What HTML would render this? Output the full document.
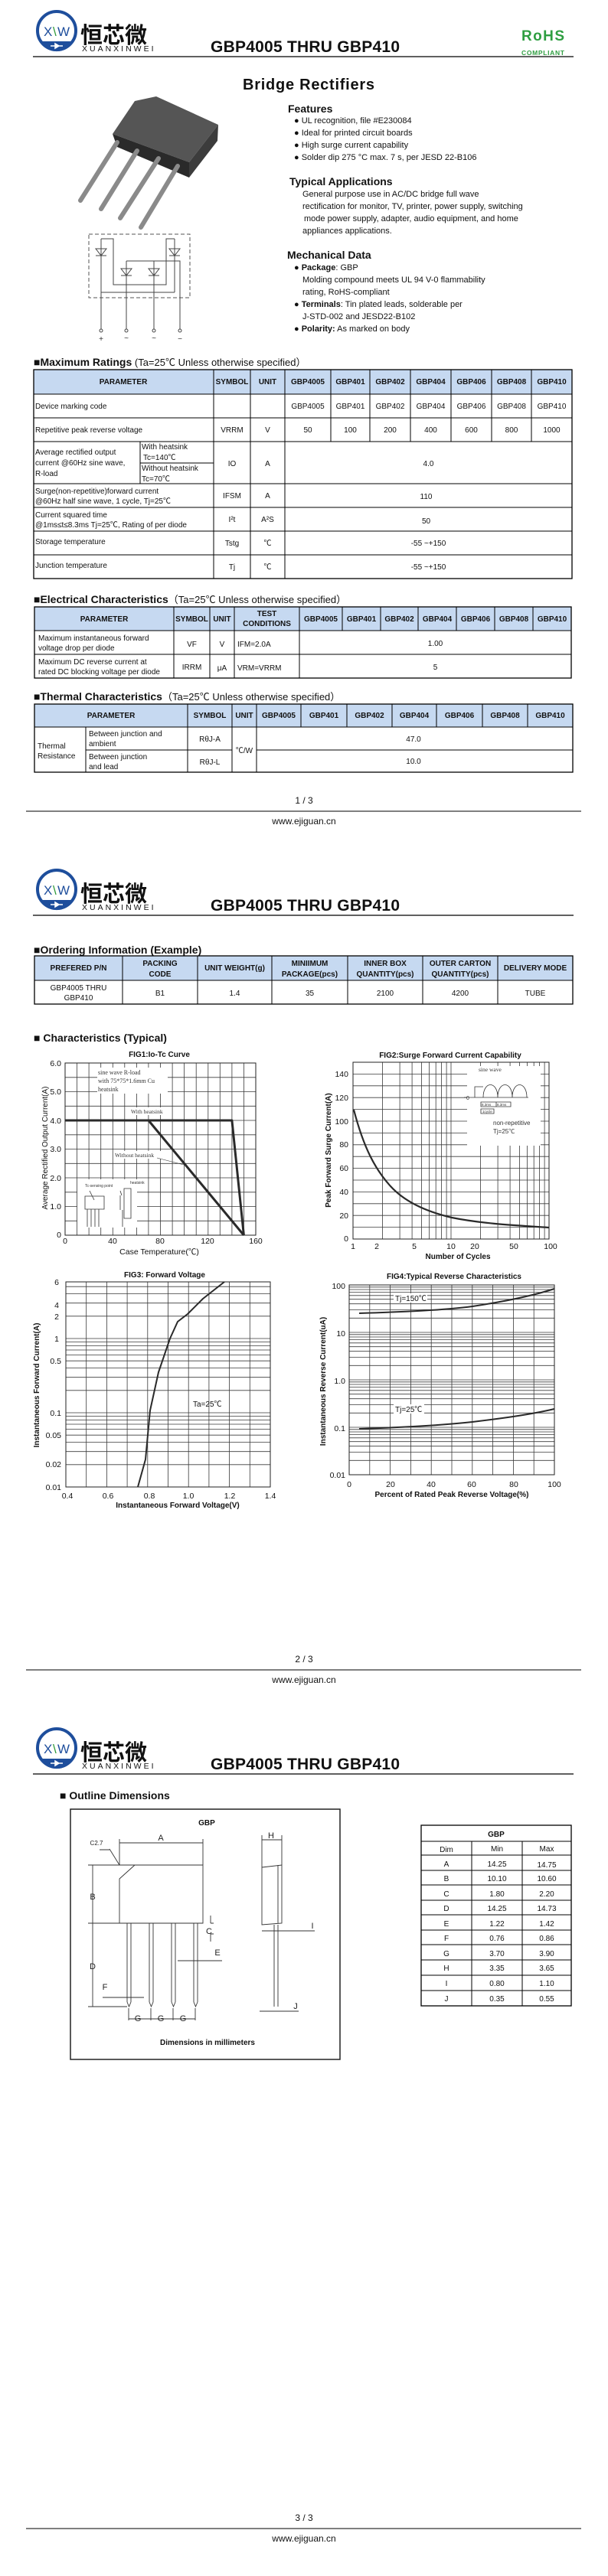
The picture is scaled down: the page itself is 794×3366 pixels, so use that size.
<!DOCTYPE html>
<html><head><meta charset="utf-8"><style>
html,body{margin:0;padding:0;background:#fff;}
svg{display:block;font-family:"Liberation Sans","Noto Sans CJK SC",sans-serif;}
.t{font-size:10px;fill:#111;}
.h{font-size:10px;font-weight:bold;fill:#111;}
.c{text-anchor:middle;}
.g{stroke:#3a3a3a;stroke-width:0.8;fill:none;}
.tb{stroke:#000;stroke-width:1;fill:none;}
.ax{font-size:10.5px;fill:#111;}
</style></head><body>
<svg width="794" height="3366" viewBox="0 0 794 3366" xmlns="http://www.w3.org/2000/svg">
<rect width="794" height="3366" fill="#fff"/>

<!-- ===== HEADERS ===== -->
<g id="hd1">
<circle cx="74" cy="40" r="25" fill="none" stroke="#1e4e9c" stroke-width="4"/>
<path d="M52,54 A25,25 0 0 0 96,54 Z" fill="#1e4e9c"/>
<path d="M66,60 H82 M72,57 L72,63 L77,60 Z" stroke="#fff" stroke-width="1.5" fill="#fff"/>
<text x="57" y="47" font-size="17" fill="#1e4e9c">X</text><text x="69" y="47" font-size="17" fill="#2e9a3a">\</text><text x="75" y="47" font-size="17" fill="#1e4e9c">W</text>
<text x="105" y="56" font-size="29" font-weight="bold" fill="#111" font-family="'Noto Sans CJK SC',sans-serif">恒芯微</text>
<text x="107" y="67" font-size="10.5" letter-spacing="3" fill="#111">XUANXINWEI</text>
<text x="275" y="68" font-size="21" font-weight="bold" fill="#111" textLength="247">GBP4005 THRU GBP410</text>
<line x1="43" y1="74" x2="749" y2="74" stroke="#000" stroke-width="1.3"/>
</g>
<text x="681" y="53" font-size="19" font-weight="bold" fill="#2f9e41" textLength="56">RoHS</text>
<text x="681" y="72" font-size="8.5" font-weight="bold" fill="#2f9e41" textLength="56">COMPLIANT</text>

<g transform="translate(0,1122)">
<circle cx="74" cy="40" r="25" fill="none" stroke="#1e4e9c" stroke-width="4"/>
<path d="M52,54 A25,25 0 0 0 96,54 Z" fill="#1e4e9c"/>
<path d="M66,60 H82 M72,57 L72,63 L77,60 Z" stroke="#fff" stroke-width="1.5" fill="#fff"/>
<text x="57" y="47" font-size="17" fill="#1e4e9c">X</text><text x="69" y="47" font-size="17" fill="#2e9a3a">\</text><text x="75" y="47" font-size="17" fill="#1e4e9c">W</text>
<text x="105" y="56" font-size="29" font-weight="bold" fill="#111" font-family="'Noto Sans CJK SC',sans-serif">恒芯微</text>
<text x="107" y="67" font-size="10.5" letter-spacing="3" fill="#111">XUANXINWEI</text>
<text x="275" y="68" font-size="21" font-weight="bold" fill="#111" textLength="247">GBP4005 THRU GBP410</text>
<line x1="43" y1="74" x2="749" y2="74" stroke="#000" stroke-width="1.3"/>
</g>
<g transform="translate(0,2244)">
<circle cx="74" cy="40" r="25" fill="none" stroke="#1e4e9c" stroke-width="4"/>
<path d="M52,54 A25,25 0 0 0 96,54 Z" fill="#1e4e9c"/>
<path d="M66,60 H82 M72,57 L72,63 L77,60 Z" stroke="#fff" stroke-width="1.5" fill="#fff"/>
<text x="57" y="47" font-size="17" fill="#1e4e9c">X</text><text x="69" y="47" font-size="17" fill="#2e9a3a">\</text><text x="75" y="47" font-size="17" fill="#1e4e9c">W</text>
<text x="105" y="56" font-size="29" font-weight="bold" fill="#111" font-family="'Noto Sans CJK SC',sans-serif">恒芯微</text>
<text x="107" y="67" font-size="10.5" letter-spacing="3" fill="#111">XUANXINWEI</text>
<text x="275" y="68" font-size="21" font-weight="bold" fill="#111" textLength="247">GBP4005 THRU GBP410</text>
<line x1="43" y1="74" x2="749" y2="74" stroke="#000" stroke-width="1.3"/>
</g>

<!-- ===== FOOTERS ===== -->
<g font-size="12" fill="#111" text-anchor="middle">
<text x="397" y="1050">1 / 3</text><line x1="34" y1="1060" x2="759" y2="1060" stroke="#555" stroke-width="1.5"/><text x="397" y="1077">www.ejiguan.cn</text>
<text x="397" y="2172">2 / 3</text><line x1="34" y1="2182" x2="759" y2="2182" stroke="#555" stroke-width="1.5"/><text x="397" y="2199">www.ejiguan.cn</text>
<text x="397" y="3294">3 / 3</text><line x1="34" y1="3304" x2="759" y2="3304" stroke="#555" stroke-width="1.5"/><text x="397" y="3321">www.ejiguan.cn</text>
</g>

<!-- ===== PAGE 1 ===== -->
<text x="317" y="117" font-size="20" font-weight="bold" fill="#111" textLength="172">Bridge Rectifiers</text>

<!-- component photo -->
<polygon points="147,175 176,132 204,126 285,163 247,212" fill="#555"/>
<polygon points="147,175 247,212 247,232 153,192" fill="#2a2a2a"/>
<polygon points="285,163 284,184 247,232 247,212" fill="#3c3c3c"/>
<g stroke="#8a8a8a" stroke-width="6" stroke-linecap="round">
<line x1="153" y1="186" x2="105" y2="262"/><line x1="179" y1="197" x2="132" y2="273"/>
<line x1="207" y1="207" x2="157" y2="285"/><line x1="232" y1="217" x2="184" y2="297"/>
</g>

<!-- circuit -->
<rect x="116" y="306" width="132" height="83" fill="none" stroke="#555" stroke-width="1" stroke-dasharray="5,3"/>
<g stroke="#444" stroke-width="1" fill="none">
<path d="M132,312 H148 V372 H217 V312 H228"/>
<path d="M132,312 V430 M228,312 V382 M132,382 H228"/>
<path d="M165,341 H235 V430 M165,341 V430 M201,341 V430"/>
<path d="M125,325 H139 L132,334 Z M125,334 H139"/>
<path d="M221,325 H235 L228,334 Z M221,334 H235"/>
<path d="M158,351 H172 L165,360 Z M158,360 H172"/>
<path d="M194,351 H208 L201,360 Z M194,360 H208"/>
<circle cx="132" cy="432" r="2"/><circle cx="165" cy="432" r="2"/><circle cx="201" cy="432" r="2"/><circle cx="235" cy="432" r="2"/>
</g>
<g font-size="10" fill="#333" text-anchor="middle"><text x="132" y="446">+</text><text x="165" y="445">~</text><text x="201" y="445">~</text><text x="235" y="446">−</text></g>

<!-- text blocks -->
<g fill="#111">
<text x="376" y="147" font-size="14" font-weight="bold">Features</text>
<g font-size="11">
<text x="384" y="161">● UL recognition, file #E230084</text>
<text x="384" y="177">● Ideal for printed circuit boards</text>
<text x="384" y="193">● High surge current capability</text>
<text x="384" y="209">● Solder dip 275 °C max. 7 s, per JESD 22-B106</text>
</g>
<text x="378" y="242" font-size="14" font-weight="bold">Typical Applications</text>
<g font-size="11">
<text x="395" y="257">General purpose use in AC/DC bridge full wave</text>
<text x="395" y="273">rectification for monitor, TV, printer, power supply, switching</text>
<text x="397" y="289">mode power supply, adapter, audio equipment, and home</text>
<text x="395" y="305">appliances applications.</text>
</g>
<text x="375" y="338" font-size="14" font-weight="bold">Mechanical Data</text>
<g font-size="11">
<text x="384" y="353">● <tspan font-weight="bold">Package</tspan>: GBP</text>
<text x="395" y="369">Molding compound meets UL 94 V-0 flammability</text>
<text x="395" y="385">rating, RoHS-compliant</text>
<text x="384" y="401">● <tspan font-weight="bold">Terminals</tspan>: Tin plated leads, solderable  per</text>
<text x="395" y="417">J-STD-002 and JESD22-B102</text>
<text x="384" y="433">● <tspan font-weight="bold">Polarity:</tspan> As marked on body</text>
</g>
</g>

<!-- Maximum Ratings -->
<text x="44" y="478" fill="#111"><tspan font-size="14" font-weight="bold">■Maximum Ratings</tspan><tspan font-size="13"> (Ta=25℃ Unless otherwise specified）</tspan></text>
<rect x="44" y="483" width="703" height="32" fill="#c6d9f1"/>
<g class="tb">
<rect x="44" y="483" width="703" height="273" stroke-width="1.3"/>
<path d="M44,515H747M44,546H747M44,577H747M44,632H747M44,663H747M44,694H747M44,725H747"/>
<path d="M279,483V756M327,483V756M372,483V756M432,483V577M483,483V577M536,483V577M589,483V577M642,483V577M694,483V577"/>
<path d="M183,577V632M183,605H279"/>
</g>
<g class="h c">
<text x="161" y="502">PARAMETER</text><text x="303" y="502">SYMBOL</text><text x="349.5" y="502">UNIT</text>
<text x="402" y="502">GBP4005</text><text x="457.5" y="502">GBP401</text><text x="509.5" y="502">GBP402</text><text x="562.5" y="502">GBP404</text><text x="615.5" y="502">GBP406</text><text x="668" y="502">GBP408</text><text x="720.5" y="502">GBP410</text>
</g>
<g class="t">
<text x="46" y="534">Device marking code</text>
<g class="c"><text x="402" y="534">GBP4005</text><text x="457.5" y="534">GBP401</text><text x="509.5" y="534">GBP402</text><text x="562.5" y="534">GBP404</text><text x="615.5" y="534">GBP406</text><text x="668" y="534">GBP408</text><text x="720.5" y="534">GBP410</text></g>
<text x="46" y="565">Repetitive peak reverse voltage</text>
<g class="c"><text x="303" y="565">VRRM</text><text x="349.5" y="565">V</text><text x="402" y="565">50</text><text x="457.5" y="565">100</text><text x="509.5" y="565">200</text><text x="562.5" y="565">400</text><text x="615.5" y="565">600</text><text x="668" y="565">800</text><text x="720.5" y="565">1000</text></g>
<text x="46" y="594">Average rectified output</text><text x="46" y="608">current @60Hz sine wave,</text><text x="46" y="622">R-load</text>
<text x="185" y="587">With heatsink</text><text x="187" y="601">Tc=140℃</text><text x="185" y="615">Without heatsink</text><text x="185" y="629">Tc=70℃</text>
<g class="c"><text x="303" y="609">IO</text><text x="349.5" y="609">A</text><text x="559.5" y="609">4.0</text></g>
<text x="46" y="645">Surge(non-repetitive)forward current</text><text x="46" y="658">@60Hz half sine wave, 1 cycle, Tj=25℃</text>
<g class="c"><text x="303" y="651">IFSM</text><text x="349.5" y="651">A</text><text x="556.5" y="652">110</text></g>
<text x="46" y="676">Current squared time</text><text x="46" y="689">@1ms≤t≤8.3ms Tj=25℃, Rating of per diode</text>
<g class="c"><text x="303" y="682">I²t</text><text x="349.5" y="682">A²S</text><text x="556.5" y="684">50</text></g>
<text x="46" y="711">Storage temperature</text>
<g class="c"><text x="303" y="713">Tstg</text><text x="349.5" y="713">℃</text><text x="559.5" y="713">-55 ~+150</text></g>
<text x="46" y="742">Junction temperature</text>
<g class="c"><text x="303" y="744">Tj</text><text x="349.5" y="744">℃</text><text x="559.5" y="744">-55 ~+150</text></g>
</g>

<!-- Electrical -->
<text x="44" y="788" fill="#111"><tspan font-size="14" font-weight="bold">■Electrical Characteristics</tspan><tspan font-size="13">（Ta=25℃ Unless otherwise specified）</tspan></text>
<rect x="45" y="793" width="701" height="31" fill="#c6d9f1"/>
<g class="tb">
<rect x="45" y="793" width="701" height="93" stroke-width="1.3"/>
<path d="M45,824H746M45,855H746"/>
<path d="M227,793V886M274,793V886M306,793V886M391,793V886M447,793V824M497,793V824M546,793V824M596,793V824M646,793V824M696,793V824"/>
</g>
<g class="h c">
<text x="136" y="812">PARAMETER</text><text x="250.5" y="812">SYMBOL</text><text x="290" y="812">UNIT</text>
<text x="348.5" y="805">TEST</text><text x="348.5" y="818">CONDITIONS</text>
<text x="419" y="812">GBP4005</text><text x="472" y="812">GBP401</text><text x="521.5" y="812">GBP402</text><text x="571" y="812">GBP404</text><text x="621" y="812">GBP406</text><text x="671" y="812">GBP408</text><text x="721" y="812">GBP410</text>
</g>
<g class="t">
<text x="50" y="837">Maximum instantaneous forward</text><text x="50" y="850">voltage drop per diode</text>
<g class="c"><text x="250.5" y="845">VF</text><text x="290" y="845">V</text><text x="568.5" y="844">1.00</text></g>
<text x="310" y="845">IFM=2.0A</text>
<text x="50" y="868">Maximum DC reverse current at</text><text x="50" y="881">rated DC blocking voltage per diode</text>
<g class="c"><text x="250.5" y="875">IRRM</text><text x="290" y="876">μA</text><text x="568.5" y="875">5</text></g>
<text x="310" y="876">VRM=VRRM</text>
</g>

<!-- Thermal -->
<text x="44" y="915" fill="#111"><tspan font-size="14" font-weight="bold">■Thermal Characteristics</tspan><tspan font-size="13">（Ta=25℃ Unless otherwise specified）</tspan></text>
<rect x="45" y="920" width="703" height="30" fill="#c6d9f1"/>
<g class="tb">
<rect x="45" y="920" width="703" height="89" stroke-width="1.3"/>
<path d="M45,950H748M112,980H303M335,980H748"/>
<path d="M112,950V1009M245,920V1009M303,920V1009M335,920V1009M393,920V950M453,920V950M512,920V950M570,920V950M630,920V950M689,920V950"/>
</g>
<g class="h c">
<text x="145" y="938">PARAMETER</text><text x="274" y="938">SYMBOL</text><text x="319" y="938">UNIT</text>
<text x="364" y="938">GBP4005</text><text x="423" y="938">GBP401</text><text x="482.5" y="938">GBP402</text><text x="541" y="938">GBP404</text><text x="600" y="938">GBP406</text><text x="659.5" y="938">GBP408</text><text x="718.5" y="938">GBP410</text>
</g>
<g class="t">
<text x="49" y="978">Thermal</text><text x="49" y="991">Resistance</text>
<text x="116" y="962">Between junction and</text><text x="116" y="975">ambient</text>
<text x="116" y="992">Between junction</text><text x="116" y="1005">and lead</text>
<g class="c"><text x="274" y="969">RθJ-A</text><text x="274" y="999">RθJ-L</text><text x="319" y="984">℃/W</text><text x="540" y="969">47.0</text><text x="540" y="998">10.0</text></g>
</g>

<!-- ===== PAGE 2 ===== -->
<text x="44" y="1246" font-size="14" font-weight="bold" fill="#111">■Ordering Information (Example)</text>
<rect x="45" y="1249" width="703" height="32" fill="#c6d9f1"/>
<g class="tb">
<rect x="45" y="1249" width="703" height="63" stroke-width="1.3"/>
<path d="M45,1281H748M160,1249V1312M258,1249V1312M355,1249V1312M454,1249V1312M552,1249V1312M650,1249V1312"/>
</g>
<g class="h c">
<text x="102.5" y="1268">PREFERED P/N</text>
<text x="209" y="1262">PACKING</text><text x="209" y="1276">CODE</text>
<text x="306.5" y="1268">UNIT WEIGHT(g)</text>
<text x="404.5" y="1262">MINIIMUM</text><text x="404.5" y="1276">PACKAGE(pcs)</text>
<text x="503" y="1262">INNER BOX</text><text x="503" y="1276">QUANTITY(pcs)</text>
<text x="601" y="1262">OUTER CARTON</text><text x="601" y="1276">QUANTITY(pcs)</text>
<text x="699" y="1268">DELIVERY MODE</text>
</g>
<g class="t c" font-size="11">
<text x="102.5" y="1294">GBP4005 THRU</text><text x="102.5" y="1307">GBP410</text>
<text x="209" y="1301">B1</text><text x="306.5" y="1301">1.4</text><text x="404.5" y="1301">35</text><text x="503" y="1301">2100</text><text x="601" y="1301">4200</text><text x="699" y="1301">TUBE</text>
</g>
<text x="44" y="1361" font-size="14" font-weight="bold" fill="#111">■ Characteristics (Typical)</text>

<!-- FIG1 -->
<text x="208" y="1381" class="h c">FIG1:Io-Tc Curve</text>
<path class="g" d="M100.6,1389V1614M116.1,1389V1614M131.7,1389V1614M147.3,1389V1614M162.8,1389V1614M178.4,1389V1614M193.9,1389V1614M209.5,1389V1614M225.1,1389V1614M240.6,1389V1614M256.2,1389V1614M271.8,1389V1614M287.3,1389V1614M302.9,1389V1614M318.4,1389V1614M85,1595.3H334M85,1576.5H334M85,1557.8H334M85,1539H334M85,1520.3H334M85,1501.5H334M85,1482.8H334M85,1464H334M85,1445.3H334M85,1426.5H334M85,1407.8H334"/>
<rect x="85" y="1389" width="249" height="225" fill="none" stroke="#222" stroke-width="1"/>
<rect x="127" y="1395" width="92" height="34" fill="#fff"/>
<g font-size="8" fill="#333" font-family="'Liberation Serif',serif"><text x="128" y="1404">sine wave R-load</text><text x="128" y="1415">with 75*75*1.6mm Cu</text><text x="128" y="1426">heatsink</text></g>
<rect x="166" y="1447" width="58" height="10" fill="#fff"/><text x="171" y="1455" font-size="7.5" fill="#333" font-family="'Liberation Serif',serif">With heatsink</text>
<rect x="148" y="1504" width="70" height="10" fill="#fff"/><text x="150" y="1512" font-size="7.5" fill="#333" font-family="'Liberation Serif',serif">Without heatsink</text>
<line x1="205" y1="1513" x2="240" y2="1522" stroke="#333" stroke-width="0.6"/>
<rect x="101" y="1541" width="78" height="63" fill="#fff"/>
<g stroke="#333" stroke-width="0.8" fill="none"><path d="M111,1563H136V1580H111Z M114,1580V1603M119,1580V1603M124,1580V1603M129,1580V1603M117,1556L123,1568M157,1562V1581M162,1553H171V1592H162Z M160,1581V1603M157,1556L159,1562"/></g>
<text x="111" y="1551" font-size="5" fill="#333">Tc-sensing point</text><text x="170" y="1547" font-size="5" fill="#333">heatsink</text>
<g stroke="#2a2a2a" stroke-width="3" fill="none" stroke-linejoin="round">
<path d="M85,1464H302.9L318.4,1614"/><path d="M193.9,1464L318.4,1614"/>
</g>
<g class="ax" text-anchor="end"><text x="80" y="1393">6.0</text><text x="80" y="1430">5.0</text><text x="80" y="1468">4.0</text><text x="80" y="1505">3.0</text><text x="80" y="1543">2.0</text><text x="80" y="1580">1.0</text><text x="80" y="1617">0</text></g>
<g class="ax c"><text x="85" y="1625">0</text><text x="147" y="1625">40</text><text x="209" y="1625">80</text><text x="271" y="1625">120</text><text x="334" y="1625">160</text>
<text x="208" y="1639">Case Temperature(℃)</text></g>
<text transform="translate(62,1500) rotate(-90)" class="c" font-size="10" fill="#111">Average Rectified Output Current(A)</text>

<!-- FIG2 -->
<text x="588" y="1382" class="h c">FIG2:Surge Forward Current Capability</text>
<path class="g" d="M499.5,1388V1619M522.1,1388V1619M538.1,1388V1619M550.5,1388V1619M560.6,1388V1619M569.2,1388V1619M576.6,1388V1619M583.1,1388V1619M589,1388V1619M627.5,1388V1619M650.1,1388V1619M666.1,1388V1619M678.5,1388V1619M688.6,1388V1619M697.2,1388V1619M704.6,1388V1619M711.1,1388V1619M461,1603.6H717M461,1588.2H717M461,1572.8H717M461,1557.4H717M461,1542H717M461,1526.6H717M461,1511.2H717M461,1495.8H717M461,1480.4H717M461,1465H717M461,1449.6H717M461,1434.2H717M461,1418.8H717M461,1403.4H717"/>
<rect x="461" y="1388" width="256" height="231" fill="none" stroke="#222" stroke-width="1"/>
<rect x="610" y="1393" width="96" height="104" fill="#fff"/>
<text x="625" y="1400" font-size="7.5" fill="#333" font-family="'Liberation Serif',serif">sine wave</text>
<g stroke="#333" stroke-width="0.8" fill="none"><path d="M606,1434H690M620,1434V1420H631M631,1434C631,1412 650,1412 650,1434C650,1412 669,1412 669,1434C669,1412 688,1412 688,1434M628,1440H648V1446H628ZM648,1440H667V1446H648ZM628,1449H645V1455H628Z"/></g>
<text x="609" y="1437" font-size="7" fill="#333">0</text>
<g font-size="4.5" fill="#333"><text x="629" y="1445">8.3ms</text><text x="649" y="1445">8.3ms</text><text x="630" y="1454">1cycle</text></g>
<text x="644" y="1470" font-size="8" fill="#333">non-repetitive</text><text x="644" y="1481" font-size="8" fill="#333">Tj=25℃</text>
<path d="M462,1450 C475,1500 490,1528 510,1550 C530,1572 560,1584 590,1591 C630,1599 670,1601 717,1604" stroke="#2a2a2a" stroke-width="2.2" fill="none"/>
<g class="ax" text-anchor="end"><text x="455" y="1407">140</text><text x="455" y="1438">120</text><text x="455" y="1469">100</text><text x="455" y="1499">80</text><text x="455" y="1530">60</text><text x="455" y="1561">40</text><text x="455" y="1592">20</text><text x="455" y="1622">0</text></g>
<g class="ax c"><text x="461" y="1632">1</text><text x="492" y="1632">2</text><text x="541" y="1632">5</text><text x="589" y="1632">10</text><text x="620" y="1632">20</text><text x="671" y="1632">50</text><text x="719" y="1632">100</text>
<text x="598" y="1645" font-weight="bold" font-size="10">Number of Cycles</text></g>
<text transform="translate(432,1503) rotate(-90)" class="h c">Peak Forward Surge Current(A)</text>

<!-- FIG3 -->
<text x="215" y="1669" class="h c" font-size="11">FIG3: Forward Voltage</text>
<path class="g" d="M112.7,1675V1943M139.4,1675V1943M166.1,1675V1943M192.8,1675V1943M219.5,1675V1943M246.2,1675V1943M272.9,1675V1943M299.6,1675V1943M326.3,1675V1943M86,1913.8H353M86,1896.7H353M86,1884.6H353M86,1875.2H353M86,1867.5H353M86,1861H353M86,1855.4H353M86,1850.5H353M86,1846H353M86,1816.8H353M86,1799.7H353M86,1787.6H353M86,1778.2H353M86,1770.5H353M86,1764H353M86,1758.4H353M86,1753.5H353M86,1749H353M86,1719.8H353M86,1702.7H353M86,1690.6H353M86,1681.2H353"/>
<rect x="86" y="1675" width="267" height="268" fill="none" stroke="#222" stroke-width="1"/>
<path d="M180,1943 L190,1907 L196,1843 L207,1793 L222,1749 L232,1727 L245,1717 L265,1697 L293,1675" stroke="#2a2a2a" stroke-width="2" fill="none" stroke-linejoin="round"/>
<text x="252" y="1838" font-size="10" fill="#111">Ta=25℃</text>
<g class="ax" text-anchor="end"><text x="77" y="1679">6</text><text x="77" y="1709">4</text><text x="77" y="1724">2</text><text x="77" y="1753">1</text><text x="80" y="1782">0.5</text><text x="80" y="1850">0.1</text><text x="80" y="1879">0.05</text><text x="80" y="1917">0.02</text><text x="80" y="1947">0.01</text></g>
<g class="ax c"><text x="88" y="1958">0.4</text><text x="141" y="1958">0.6</text><text x="195" y="1958">0.8</text><text x="246" y="1958">1.0</text><text x="300" y="1958">1.2</text><text x="353" y="1958">1.4</text>
<text x="232" y="1970" font-weight="bold" font-size="10">Instantaneous Forward Voltage(V)</text></g>
<text transform="translate(51,1810) rotate(-90)" class="h c">Instantaneous Forward Current(A)</text>

<!-- FIG4 -->
<text x="593" y="1671" class="h c" font-size="11">FIG4:Typical Reverse Characteristics</text>
<path class="g" d="M482.8,1679V1927M509.6,1679V1927M536.4,1679V1927M563.2,1679V1927M590,1679V1927M616.8,1679V1927M643.6,1679V1927M670.4,1679V1927M697.2,1679V1927M456,1908.3H724M456,1897.4H724M456,1889.7H724M456,1883.7H724M456,1878.8H724M456,1874.6H724M456,1871H724M456,1867.8H724M456,1865H724M456,1846.3H724M456,1835.4H724M456,1827.7H724M456,1821.7H724M456,1816.8H724M456,1812.6H724M456,1809H724M456,1805.8H724M456,1803H724M456,1784.3H724M456,1773.4H724M456,1765.7H724M456,1759.7H724M456,1754.8H724M456,1750.6H724M456,1747H724M456,1743.8H724M456,1741H724M456,1722.3H724M456,1711.4H724M456,1703.7H724M456,1697.7H724M456,1692.8H724M456,1688.6H724M456,1685H724M456,1681.8H724"/>
<rect x="456" y="1679" width="268" height="248" fill="none" stroke="#222" stroke-width="1"/>
<g stroke="#2a2a2a" stroke-width="2" fill="none">
<path d="M469,1716 C530,1714 580,1712 617,1707 C650,1702 690,1695 724,1684"/>
<path d="M469,1867 C530,1865 580,1862 617,1858 C650,1854 690,1849 724,1841"/>
</g>
<rect x="514" y="1690" width="44" height="12" fill="#fff"/><text x="516" y="1700" font-size="10" fill="#111">Tj=150℃</text>
<rect x="514" y="1835" width="40" height="12" fill="#fff"/><text x="516" y="1845" font-size="10" fill="#111">Tj=25℃</text>
<g class="ax" text-anchor="end"><text x="451" y="1684">100</text><text x="451" y="1746">10</text><text x="451" y="1808">1.0</text><text x="451" y="1870">0.1</text><text x="451" y="1931">0.01</text></g>
<g class="ax c"><text x="456" y="1943">0</text><text x="510" y="1943">20</text><text x="563" y="1943">40</text><text x="616" y="1943">60</text><text x="671" y="1943">80</text><text x="724" y="1943">100</text>
<text x="590" y="1956" font-weight="bold" font-size="10">Percent of Rated Peak Reverse Voltage(%)</text></g>
<text transform="translate(425,1805) rotate(-90)" class="h c">Instantaneous Reverse Current(uA)</text>

<!-- ===== PAGE 3 ===== -->
<text x="78" y="2351" font-size="14" font-weight="bold" fill="#111">■ Outline Dimensions</text>
<rect x="92" y="2364" width="352" height="327" fill="none" stroke="#222" stroke-width="1.5"/>
<text x="270" y="2385" class="h c" font-size="12">GBP</text>
<g stroke="#333" stroke-width="0.9" fill="none">
<path d="M156,2455 L176,2437 H265 V2513 H156 Z"/>
<path d="M156,2403V2437M265,2403V2437M156,2408H265M115,2437H176M121,2437V2622M115,2513H156M115,2622H166"/>
<path d="M166,2513V2616M171,2513V2616M195,2513V2616M200,2513V2616M224,2513V2616M229,2513V2616M253,2513V2616M258,2513V2616"/>
<path d="M166,2616L168.5,2622L171,2616M195,2616L197.5,2622L200,2616M224,2616L226.5,2622L229,2616M253,2616L255.5,2622L258,2616"/>
<path d="M275,2513H279M275,2527H279M275,2503V2513M275,2527V2537"/>
<path d="M232,2562H290M134,2610H188M168,2624V2640M197,2624V2640M226,2624V2640M255,2624V2640M168,2638H255"/>
<path d="M342,2440 L368,2437 V2513 L342,2515 Z M363,2437V2513 M342,2398V2440M368,2398V2437M342,2404H368"/>
<path d="M358,2515V2622M363,2515V2622M342,2523H411M339,2628H390"/>
<path d="M143,2416L156,2437M130,2417H143"/>
</g>
<g font-size="11" fill="#222" text-anchor="middle">
<text x="210" y="2405">A</text><text x="354" y="2402">H</text><text x="126" y="2411" font-size="8">C2.7</text>
<text x="121" y="2482">B</text><text x="121" y="2573">D</text><text x="273" y="2527">C</text><text x="284" y="2555">E</text>
<text x="408" y="2520">I</text><text x="137" y="2600">F</text><text x="180" y="2641">G</text><text x="210" y="2641">G</text><text x="239" y="2641">G</text><text x="386" y="2625">J</text>
</g>
<text x="271" y="2672" class="h c" font-size="12">Dimensions in millimeters</text>

<g class="tb">
<rect x="550" y="2385" width="196" height="236" stroke-width="1.3"/>
<path d="M550,2406H746M550,2424H746M550,2444H746M550,2463H746M550,2483H746M550,2502H746M550,2522H746M550,2541H746M550,2561H746M550,2581H746M550,2601H746"/>
<path d="M616,2406V2621M682,2406V2621"/>
</g>
<g class="t c" font-size="11">
<text x="648" y="2400" font-weight="bold">GBP</text>
<text x="583" y="2420">Dim</text><text x="649" y="2419">Min</text><text x="714" y="2419">Max</text>
<text x="583" y="2439">A</text><text x="649" y="2439">14.25</text><text x="714" y="2440">14.75</text>
<text x="583" y="2458">B</text><text x="649" y="2458">10.10</text><text x="714" y="2458">10.60</text>
<text x="583" y="2478">C</text><text x="649" y="2478">1.80</text><text x="714" y="2478">2.20</text>
<text x="583" y="2497">D</text><text x="649" y="2497">14.25</text><text x="714" y="2497">14.73</text>
<text x="583" y="2517">E</text><text x="649" y="2517">1.22</text><text x="714" y="2517">1.42</text>
<text x="583" y="2536">F</text><text x="649" y="2536">0.76</text><text x="714" y="2536">0.86</text>
<text x="583" y="2556">G</text><text x="649" y="2556">3.70</text><text x="714" y="2556">3.90</text>
<text x="583" y="2575">H</text><text x="649" y="2575">3.35</text><text x="714" y="2575">3.65</text>
<text x="583" y="2595">I</text><text x="649" y="2595">0.80</text><text x="714" y="2595">1.10</text>
<text x="583" y="2615">J</text><text x="649" y="2615">0.35</text><text x="714" y="2615">0.55</text>
</g>
</svg>
</body></html>
